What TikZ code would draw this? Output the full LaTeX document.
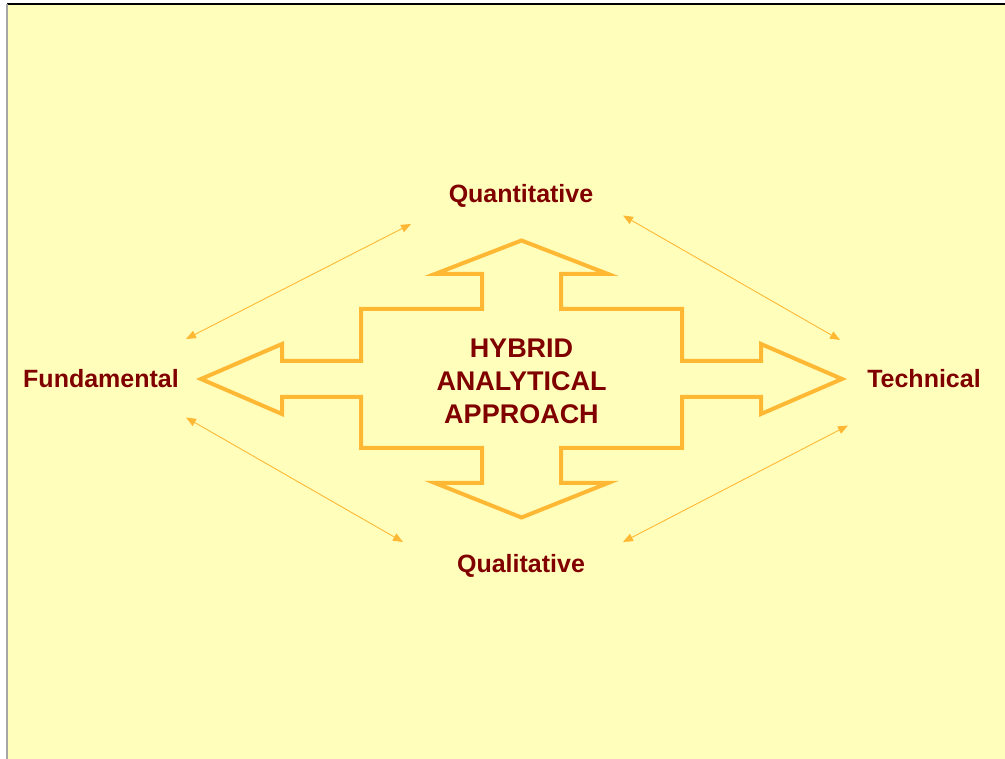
\documentclass[tikz,border=0pt]{standalone}
\usepackage{fontspec}
\setmainfont{Liberation Sans}
\usetikzlibrary{arrows.meta}
\definecolor{paper}{RGB}{255,255,187}
\definecolor{gold}{RGB}{255,184,51}
\definecolor{maroon}{RGB}{128,0,0}
\tikzset{
  label/.style={text=maroon,font=\fontsize{25}{30}\selectfont\bfseries},
  link/.style={gold,line width=0.9pt,{Triangle[length=10pt,width=8pt]}-{Triangle[length=10pt,width=8pt]}},
  cross/.style={gold,line width=4pt}
}
\begin{document}
\begin{tikzpicture}[x=1pt,y=-1pt]
\useasboundingbox (0,0) rectangle (1005,759);
\fill[white] (0,0) rectangle (1005,759);
\fill[paper] (7,4) rectangle (1005,759);
\draw[black,line width=1.2pt] (7,4) -- (1005,4);
\draw[gray!70,line width=1.2pt] (7,4) -- (7,759);

% big four-way arrow
\draw[cross] (521.5,240.5) -- (608,274) -- (561,274) -- (561,309) -- (682,309)
  -- (682,361) -- (761,361) -- (761,344) -- (842,379) -- (761,414) -- (761,397)
  -- (682,397) -- (682,448) -- (561,448) -- (561,483) -- (608,483) -- (521.5,517.5)
  -- (435,483) -- (482,483) -- (482,448) -- (361,448) -- (361,397) -- (282,397)
  -- (282,414) -- (201,379) -- (282,344) -- (282,361) -- (361,361) -- (361,309)
  -- (482,309) -- (482,274) -- (435,274) -- cycle;

\node[label,align=center,font=\fontsize{27}{33}\selectfont\bfseries] (hybrid) at (521.5,381) {HYBRID\\ANALYTICAL\\APPROACH};

\node[label] (quant) at (521,196) {Quantitative};
\node[label] (qual) at (521,566) {Qualitative};
\node[label] (fund) at (101,379) {Fundamental};
\node[label] (tech) at (924,379) {Technical};

% thin links
\coordinate (fundA) at (186,339);
\coordinate (quantA) at (411,224);
\coordinate (quantB) at (623,215.5);
\coordinate (techA) at (840,340);
\coordinate (fundB) at (186,417.5);
\coordinate (qualA) at (403,542);
\coordinate (qualB) at (623,542);
\coordinate (techB) at (848,425.5);

\draw[link] (fundA) -- (quantA);
\draw[link] (quantB) -- (techA);
\draw[link] (fundB) -- (qualA);
\draw[link] (qualB) -- (techB);
\end{tikzpicture}
\end{document}
